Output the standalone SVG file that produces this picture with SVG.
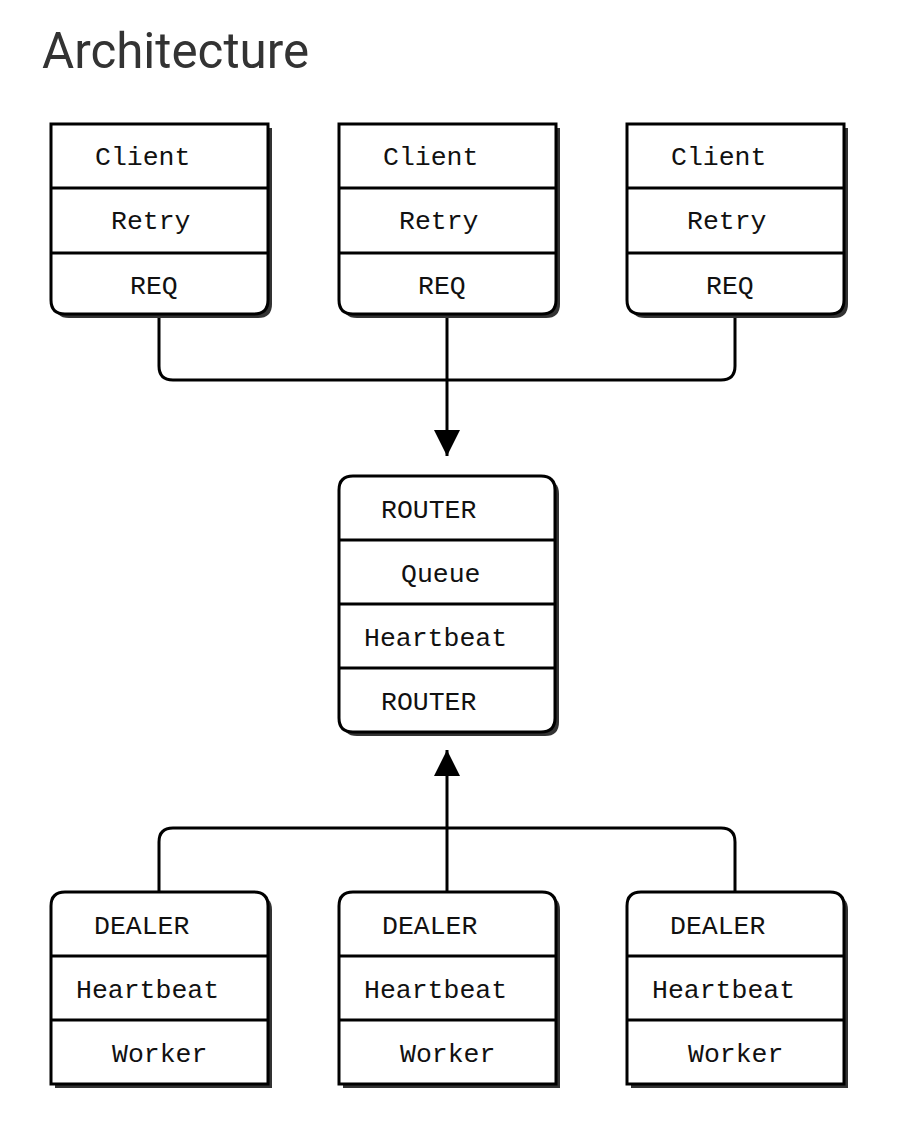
<svg xmlns="http://www.w3.org/2000/svg" width="902" height="1140" viewBox="0 0 902 1140">
<style>
.title{font-family:Roboto,"Liberation Sans",sans-serif;font-size:49.3px;fill:#333}
.t{font-family:"Liberation Mono","DejaVu Sans Mono",monospace;font-size:26.5px;fill:#111}
.box{fill:#fff;stroke:#000;stroke-width:3}
.sh{fill:#333}
.div{stroke:#000;stroke-width:3}
.con{fill:none;stroke:#000;stroke-width:3}
</style>
<defs>
<path id="clientShape" d="M0,0 H217 V176 Q217,190 203,190 H14 Q0,190 0,176 Z"/>
<path id="routerShape" d="M14,0 H202 Q216,0 216,14 V242 Q216,256 202,256 H14 Q0,256 0,242 V14 Q0,0 14,0 Z"/>
<path id="dealerShape" d="M14,0 H203 Q217,0 217,14 V192 H0 V14 Q0,0 14,0 Z"/>
<marker id="arr" markerUnits="userSpaceOnUse" markerWidth="28" markerHeight="28" viewBox="0 0 28 28" refX="26" refY="14" orient="auto">
<path d="M0,1 L26,14 L0,27 Z" fill="#000"/>
</marker>
</defs>
<text class="title" x="42" y="68">Architecture</text>
<g id="connectors">
<path class="con" d="M159,318 V366 Q159,380 173,380 H721 Q735,380 735,366 V318"/>
<path class="con" d="M447,318 V456" marker-end="url(#arr)"/>
<path class="con" d="M159,892 V842 Q159,828 173,828 H721 Q735,828 735,842 V892"/>
<path class="con" d="M447,892 V750" marker-end="url(#arr)"/>
</g>
<g id="client1" transform="translate(51,124)">
<use href="#clientShape" class="sh" x="4" y="4"/>
<use href="#clientShape" class="box"/>
<line class="div" x1="0" y1="64" x2="217" y2="64"/>
<line class="div" x1="0" y1="129" x2="217" y2="129"/>
<text class="t" x="44" y="41">Client</text>
<text class="t" x="60" y="105">Retry</text>
<text class="t" x="79" y="170">REQ</text>
</g>
<g id="client2" transform="translate(339,124)">
<use href="#clientShape" class="sh" x="4" y="4"/>
<use href="#clientShape" class="box"/>
<line class="div" x1="0" y1="64" x2="217" y2="64"/>
<line class="div" x1="0" y1="129" x2="217" y2="129"/>
<text class="t" x="44" y="41">Client</text>
<text class="t" x="60" y="105">Retry</text>
<text class="t" x="79" y="170">REQ</text>
</g>
<g id="client3" transform="translate(627,124)">
<use href="#clientShape" class="sh" x="4" y="4"/>
<use href="#clientShape" class="box"/>
<line class="div" x1="0" y1="64" x2="217" y2="64"/>
<line class="div" x1="0" y1="129" x2="217" y2="129"/>
<text class="t" x="44" y="41">Client</text>
<text class="t" x="60" y="105">Retry</text>
<text class="t" x="79" y="170">REQ</text>
</g>
<g id="router" transform="translate(339,476)">
<use href="#routerShape" class="sh" x="4" y="4"/>
<use href="#routerShape" class="box"/>
<line class="div" x1="0" y1="64" x2="216" y2="64"/>
<line class="div" x1="0" y1="128" x2="216" y2="128"/>
<line class="div" x1="0" y1="192" x2="216" y2="192"/>
<text class="t" x="42" y="42">ROUTER</text>
<text class="t" x="62" y="106">Queue</text>
<text class="t" x="25" y="170">Heartbeat</text>
<text class="t" x="42" y="234">ROUTER</text>
</g>
<g id="dealer1" transform="translate(51,892)">
<use href="#dealerShape" class="sh" x="4" y="4"/>
<use href="#dealerShape" class="box"/>
<line class="div" x1="0" y1="64" x2="217" y2="64"/>
<line class="div" x1="0" y1="128" x2="217" y2="128"/>
<text class="t" x="43" y="42">DEALER</text>
<text class="t" x="25" y="106">Heartbeat</text>
<text class="t" x="61" y="170">Worker</text>
</g>
<g id="dealer2" transform="translate(339,892)">
<use href="#dealerShape" class="sh" x="4" y="4"/>
<use href="#dealerShape" class="box"/>
<line class="div" x1="0" y1="64" x2="217" y2="64"/>
<line class="div" x1="0" y1="128" x2="217" y2="128"/>
<text class="t" x="43" y="42">DEALER</text>
<text class="t" x="25" y="106">Heartbeat</text>
<text class="t" x="61" y="170">Worker</text>
</g>
<g id="dealer3" transform="translate(627,892)">
<use href="#dealerShape" class="sh" x="4" y="4"/>
<use href="#dealerShape" class="box"/>
<line class="div" x1="0" y1="64" x2="217" y2="64"/>
<line class="div" x1="0" y1="128" x2="217" y2="128"/>
<text class="t" x="43" y="42">DEALER</text>
<text class="t" x="25" y="106">Heartbeat</text>
<text class="t" x="61" y="170">Worker</text>
</g>
</svg>
